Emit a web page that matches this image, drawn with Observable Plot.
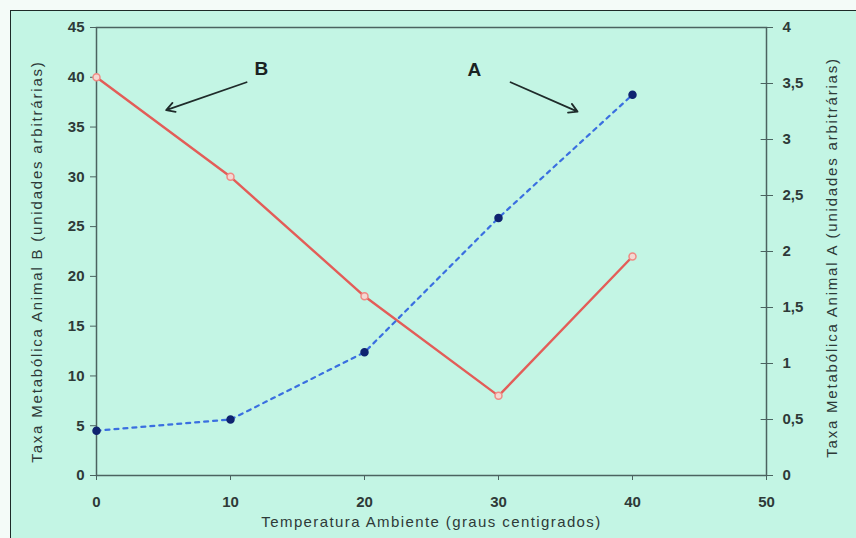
<!DOCTYPE html>
<html>
<head>
<meta charset="utf-8">
<script src="https://cdn.jsdelivr.net/npm/d3@7"></script>
<script src="https://cdn.jsdelivr.net/npm/@observablehq/plot@0.6"></script>
<style>
  html, body { margin: 0; padding: 0; background: #f4fbf8; }
  #wrap { position: relative; width: 856px; height: 538px; overflow: hidden; }
  #bg { position: absolute; left: 10px; top: 10px; width: 846px; height: 528px;
        background: #c3f5e4; border-top: 1.5px solid #1d2a28; border-left: 1.5px solid #1d2a28; }
  #chart { position: absolute; left: 0; top: 0; }
</style>
</head>
<body>
<div id="wrap"><div id="bg"></div><div id="chart"></div></div>
<script>
// Data
const temperatures = [0, 10, 20, 30, 40];
const animalB = [40, 30, 18, 8, 22];          // left axis
const animalA = [0.4, 0.5, 1.1, 2.3, 3.4];    // right axis
const xTicks = [0, 10, 20, 30, 40, 50];
const leftTicks = [0, 5, 10, 15, 20, 25, 30, 35, 40, 45];
const rightTicks = [0, 0.5, 1, 1.5, 2, 2.5, 3, 3.5, 4];
const xMax = 50, leftMax = 45, rightMax = 4;
const xTitle = "Temperatura Ambiente (graus centigrados)";
const leftTitle = "Taxa Metabólica Animal B (unidades arbitrárias)";
const rightTitle = "Taxa Metabólica Animal A (unidades arbitrárias)";
// annotations (in chart units: x temperature, y left axis)
const annLabels = ["B", "A"];
const annLabelX = [12.3, 28.2];
const annLabelY = [40.8, 40.7];
const arrowX1 = [11.2, 30.9], arrowY1 = [39.5, 39.5];
const arrowX2 = [5.2, 35.9], arrowY2 = [36.7, 36.55];

const ratio = leftMax / rightMax;
const rowsB = temperatures.map((t, i) => ({t, v: animalB[i]}));
const rowsA = temperatures.map((t, i) => ({t, v: animalA[i] * ratio}));
const ann = annLabels.map((s, i) => ({s, x: annLabelX[i], y: annLabelY[i]}));
const arrows = arrowX1.map((x, i) => ({x1: x, y1: arrowY1[i], x2: arrowX2[i], y2: arrowY2[i]}));
const fmt = d => String(d).replace(".", ",");

const axisColor = "#4b6360";
const textColor = "#2e3a38";

const chart = Plot.plot({
  width: 856, height: 538,
  marginLeft: 96, marginRight: 90, marginTop: 27, marginBottom: 63,
  x: {type: "linear", domain: [0, xMax]},
  y: {type: "linear", domain: [0, leftMax]},
  style: {background: "transparent", fontFamily: "Liberation Sans, Arial, sans-serif", fontSize: "15px", color: textColor},
  marks: [
    Plot.frame({stroke: axisColor, strokeWidth: 1.5}),
    Plot.axisX({ticks: xTicks, tickSize: 5, tickPadding: 16, stroke: axisColor, label: null, tickFormat: fmt, fontSize: 15, fontWeight: "bold", fill: textColor}),
    Plot.axisY({ticks: leftTicks, tickSize: 6, tickPadding: 6, stroke: axisColor, label: null, tickFormat: fmt, fontSize: 15, fontWeight: "bold", fill: textColor}),
    Plot.axisY({anchor: "right", ticks: rightTicks.map(d => d * ratio), tickSize: 6, tickPadding: 10, stroke: axisColor, label: null,
      tickFormat: d => fmt(+(d / ratio).toFixed(2)), fontSize: 15, fontWeight: "bold", fill: textColor}),
    Plot.ruleY(rightTicks.map(d => d * ratio), {x1: xMax - 0.4, x2: xMax, stroke: axisColor}),
    // titles
    Plot.text([xTitle], {frameAnchor: "bottom", textAnchor: "middle", dy: 51, text: d => d, fontSize: 15, fill: textColor}),
    Plot.text([leftTitle], {frameAnchor: "left", textAnchor: "middle", dx: -59, dy: 10, rotate: -90, text: d => d, fontSize: 15, fill: textColor}),
    Plot.text([rightTitle], {frameAnchor: "right", textAnchor: "middle", dx: 66, dy: 6, rotate: -90, text: d => d, fontSize: 15, fill: textColor}),
    // series
    Plot.line(rowsB, {x: "t", y: "v", stroke: "#e35d58", strokeWidth: 2.4}),
    Plot.dot(rowsB, {x: "t", y: "v", r: 3.5, stroke: "#f08a84", fill: "#f4d8d2", strokeWidth: 1.5}),
    Plot.line(rowsA, {x: "t", y: "v", stroke: "#3a6fe0", strokeWidth: 2.2, strokeDasharray: "4,5"}),
    Plot.dot(rowsA, {x: "t", y: "v", r: 3.5, fill: "#0f2370", stroke: "#0f2370"}),
    // annotations
    Plot.arrow(arrows, {x1: "x1", y1: "y1", x2: "x2", y2: "y2", stroke: "#1f2b2a", strokeWidth: 1.8, headLength: 8}),
    Plot.text(ann, {x: "x", y: "y", text: "s", fontSize: 19, fontWeight: "bold", fill: "#1a2322"})
  ]
});
chart.querySelectorAll("text").forEach(t => {
  const s = t.textContent;
  if (s === xTitle) t.setAttribute("letter-spacing", "1.4");
  else if (s === leftTitle || s === rightTitle) t.setAttribute("letter-spacing", "1.8");
});
document.getElementById("chart").appendChild(chart);
</script>
</body>
</html>
